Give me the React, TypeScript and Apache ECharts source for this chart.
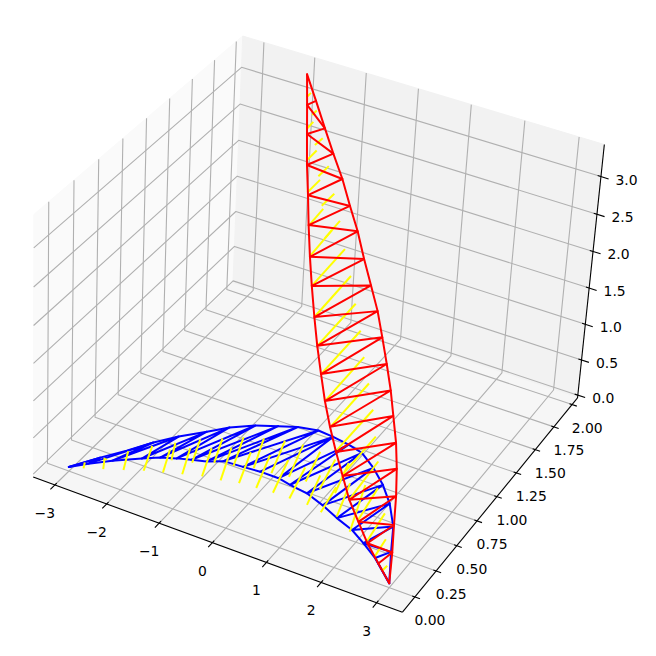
import React, { useEffect, useRef } from "react";
import * as echarts from "echarts";

// Axis limits of the 3D box and its tick values
const XLIM = [-3.42, 3.46], YLIM = [-0.145, 2.075], ZLIM = [-0.04, 3.42];
const xTicks = [-3, -2, -1, 0, 1, 2, 3];
const yTicks = [0, 0.25, 0.5, 0.75, 1, 1.25, 1.5, 1.75, 2];
const zTicks = [0, 0.5, 1, 1.5, 2, 2.5, 3];

// Blue leaf, lying on the floor z = 0: [x, y]
const blueStart = [-3.02, 0.01];
const blueEnd = [2.98, 0.01];
const blueUpper = [[-2.71,0.17],[-2.43,0.30],[-2.16,0.44],[-1.88,0.56],[-1.54,0.68],[-1.27,0.78],[-0.92,0.87],[-0.58,0.93],[-0.28,0.98],[0.07,1.01],[0.37,1.00],[0.70,0.98],[1.00,0.95],[1.36,0.86],[1.71,0.75],[2.04,0.62],[2.37,0.45],[2.64,0.25]];
const blueLower = [[-2.79,0.09],[-2.49,0.18],[-2.10,0.28],[-1.85,0.34],[-1.60,0.38],[-1.37,0.41],[-1.13,0.44],[-0.89,0.49],[-0.53,0.50],[-0.22,0.51],[0.13,0.51],[0.38,0.49],[0.73,0.47],[1.11,0.42],[1.47,0.36],[1.83,0.31],[2.15,0.24],[2.49,0.16]];
// order in which the blue lace visits the edges: U = upper, D = lower (1-based)
const blueLace = ["T","U1","D1","U3","D2","U4","D3","U5","D4","U6","D5","U7","D6","U8","D7","U9","D8","U10","D9","U11","D10","U11","D11","U12","D12","U13","D13","U14","D14","U15","D15","U16","D16","U17","D17","U18","D18","E"];
// Yellow strokes on the blue leaf: [x1, y1, x2, y2]
const blueStrokes = [[-2.86,0.09,-2.79,0.04],[-2.64,0.18,-2.50,0.09],[-2.60,0.18,-2.60,0.17],[-2.40,0.30,-2.20,0.14],[-2.13,0.41,-1.90,0.19],[-1.84,0.50,-1.65,0.35],[-1.82,0.43,-1.60,0.23],[-1.55,0.50,-1.30,0.27],[-1.53,0.60,-1.32,0.39],[-1.24,0.56,-0.99,0.31],[-1.22,0.67,-1.00,0.45],[-0.96,0.62,-0.67,0.33],[-0.93,0.74,-0.68,0.48],[-0.62,0.64,-0.37,0.36],[-0.62,0.79,-0.36,0.52],[-0.30,0.67,-0.06,0.37],[-0.28,0.83,-0.04,0.53],[0.03,0.68,0.24,0.38],[0.04,0.85,0.26,0.55],[0.37,0.67,0.55,0.38],[0.38,0.84,0.56,0.56],[0.69,0.65,0.88,0.38],[0.70,0.82,0.86,0.54],[1.07,0.60,1.17,0.36],[0.94,0.83,1.13,0.55],[1.22,0.67,1.45,0.37],[1.46,0.70,1.82,0.29]];

// Red leaf, in the upright plane y = 0.01 - 0.4 (x - 2.98): [x, z]
const redTop = [-2.05, 3.24];
const redBottom = [2.98, 0.0];
const redRight = [[-1.54,3.20],[-1.04,3.15],[-0.58,3.11],[-0.10,3.09],[0.31,3.01],[0.71,2.95],[1.06,2.83],[1.42,2.74],[1.76,2.65],[2.02,2.50],[2.27,2.34],[2.50,2.17],[2.67,1.97],[2.85,1.76],[2.95,1.50],[3.00,1.18],[3.00,0.80],[3.01,0.44]];
const redLeft = [[-1.97,2.88],[-1.90,2.53],[-1.82,2.16],[-1.69,1.83],[-1.58,1.49],[-1.43,1.15],[-1.26,0.86],[-1.05,0.57],[-0.83,0.32],[-0.57,0.11],[-0.31,-0.08],[0.00,-0.21],[0.35,-0.30],[0.72,-0.35],[1.08,-0.40],[1.54,-0.34],[1.98,-0.28],[2.49,-0.14]];
// Yellow strokes on the red leaf: [x1, z1, x2, z2]
const redStrokes = [[-2.01,2.96,-1.81,3.14],[-1.69,2.92,-1.48,3.11],[-1.93,2.58,-1.62,2.87],[-1.48,2.65,-1.12,2.97],[-1.85,2.20,-1.38,2.64],[-1.23,2.39,-0.76,2.83],[-1.73,1.84,-1.14,2.40],[-0.99,2.15,-0.43,2.68],[-1.59,1.47,-0.91,2.16],[-0.75,1.87,-0.10,2.54],[-1.43,1.16,-0.45,2.18],[-1.26,0.86,0.20,2.37],[-1.05,0.57,0.54,2.25],[-0.83,0.32,0.82,2.08],[-0.57,0.11,1.11,1.93],[-0.31,-0.08,1.33,1.74],[0.08,-0.13,1.60,1.59],[0.38,-0.25,1.85,1.43],[0.74,-0.30,2.03,1.21],[1.11,-0.36,2.20,1.01],[1.53,-0.32,2.26,0.70],[1.95,-0.28,2.61,0.64],[2.33,-0.17,2.72,0.38],[2.65,-0.11,2.85,0.13]];

const [x0, x1] = XLIM, [y0, y1] = YLIM, [z0, z1] = ZLIM;
// Camera: fitted from where box corners and ticks fall in the picture
const CAL: number[][] = [
  [x0, y0, z0, 33, 476], [x1, y0, z0, 402, 611], [-3, y0, z0, 55, 485], [-2, y0, z0, 107, 504], [3, y0, z0, 375.5, 603],
  [x1, 0, z0, 415.7, 597.7], [x1, 0.25, z0, 436, 571.7], [x1, 0.5, z0, 458, 546.7], [x1, 2, z0, 573, 405], [x1, y1, z0, 577, 397],
  [x1, y1, 0, 577.7, 394], [x1, y1, 3, 601, 176.7], [x1, y1, 2, 591.7, 250], [x1, y1, z1, 605, 146],
  [x0, y0, z1, 34, 215], [x0, y1, z1, 242.7, 35], [x0, y1, z0, 233, 283], [x0, 0, z0, 47, 463], [-3, y1, z0, 253.3, 293],
];
function solve(A: number[][], b: number[]) {
  const n = b.length; const M = A.map((r, i) => [...r, b[i]]);
  for (let i = 0; i < n; i++) {
    let p = i; for (let r = i + 1; r < n; r++) if (Math.abs(M[r][i]) > Math.abs(M[p][i])) p = r;
    [M[i], M[p]] = [M[p], M[i]];
    for (let r = 0; r < n; r++) if (r !== i) { const f = M[r][i] / M[i][i]; for (let c = i; c <= n; c++) M[r][c] -= f * M[i][c]; }
  }
  return M.map((r, i) => r[n] / r[i]);
}
function fitCamera() {
  const rows: number[][] = [], rhs: number[] = [];
  for (const [X, Y, Z, u, v] of CAL) {
    rows.push([X, Y, Z, 1, 0, 0, 0, 0, -u * X, -u * Y, -u * Z]); rhs.push(u);
    rows.push([0, 0, 0, 0, X, Y, Z, 1, -v * X, -v * Y, -v * Z]); rhs.push(v);
  }
  const n = 11; const A = Array.from({ length: n }, () => new Array(n).fill(0)); const b = new Array(n).fill(0);
  rows.forEach((r, k) => { for (let i = 0; i < n; i++) { b[i] += r[i] * rhs[k]; for (let j = 0; j < n; j++) A[i][j] += r[i] * r[j]; } });
  return solve(A, b);
}
const P = fitCamera();
const proj = (X: number, Y: number, Z: number) => {
  const w = P[8] * X + P[9] * Y + P[10] * Z + 1;
  return [(P[0] * X + P[1] * Y + P[2] * Z + P[3]) / w, (P[4] * X + P[5] * Y + P[6] * Z + P[7]) / w];
};
const onFloor = (p: number[]) => [p[0], p[1], 0];
const onRedPlane = (p: number[]) => [p[0], 0.01 - 0.4 * (p[0] - 2.98), p[1]];

export default function App() {
  const ref = useRef<HTMLDivElement>(null);
  useEffect(() => {
    const chart = echarts.init(ref.current!, null, { renderer: "svg" });
    const L3 = (a: number[][], color: string, width: number, cap = "butt") => ({
      type: "line", data: a.map((p) => proj(p[0], p[1], p[2])), showSymbol: false, symbol: "none", silent: true, clip: false, animation: false,
      lineStyle: { color, width, cap, join: "round" },
    });
    const poly = (a: number[][], color: string) => ({
      type: "custom", silent: true, clip: false, data: [0], coordinateSystem: "cartesian2d",
      renderItem: (_: any, api: any) => ({ type: "polygon", shape: { points: a.map((p) => api.coord(proj(p[0], p[1], p[2]))) }, style: { fill: color, stroke: color, lineWidth: 1 } }),
    });
    const G = "#b0b0b0";
    const series: any[] = [
      poly([[x0, y0, z0], [x0, y1, z0], [x0, y1, z1], [x0, y0, z1]], "#fafafa"),
      poly([[x0, y1, z0], [x1, y1, z0], [x1, y1, z1], [x0, y1, z1]], "#f2f2f2"),
      poly([[x0, y0, z0], [x1, y0, z0], [x1, y1, z0], [x0, y1, z0]], "#f6f6f6"),
    ];
    for (const x of xTicks) series.push(L3([[x, y0, z0], [x, y1, z0], [x, y1, z1]], G, 1.1));
    for (const y of yTicks) series.push(L3([[x1, y, z0], [x0, y, z0], [x0, y, z1]], G, 1.1));
    for (const z of zTicks) series.push(L3([[x1, y1, z], [x0, y1, z], [x0, y0, z]], G, 1.1));
    series.push(L3([[x0, y0, z0], [x1, y0, z0]], "#000", 1.1), L3([[x1, y0, z0], [x1, y1, z0]], "#000", 1.1), L3([[x1, y1, z0], [x1, y1, z1]], "#000", 1.1));
    for (const x of xTicks) series.push(L3([[x, y0 - 0.045, z0], [x, y0 + 0.02, z0]], "#000", 1.1));
    for (const y of yTicks) series.push(L3([[x1 - 0.05, y, z0], [x1 + 0.09, y, z0]], "#000", 1.1));
    for (const z of zTicks) series.push(L3([[x1 - 0.06, y1, z], [x1 + 0.14, y1, z]], "#000", 1.1));
    const labels: [number, number, string][] = [];
    const f = (v: number) => (v < 0 ? "\u2212" + -v : "" + v);
    for (const x of xTicks) { const p = proj(x, y0, z0); labels.push([p[0] - 10, p[1] + 28, f(x)]); }
    for (const y of yTicks) { const p = proj(x1, y, z0); labels.push([p[0] + 15, p[1] + 23, y.toFixed(2)]); }
    for (const z of zTicks) { const p = proj(x1, y1, z); labels.push([p[0] + 25.5, p[1] + 3, z.toFixed(1)]); }
    series.push({
      type: "custom", silent: true, clip: false, data: labels, coordinateSystem: "cartesian2d",
      renderItem: (_: any, api: any) => {
        const c = api.coord([api.value(0), api.value(1)]);
        return { type: "text", x: c[0], y: c[1], style: { text: labels[_.dataIndex][2], font: '13.9px "DejaVu Sans"', fill: "#000", textAlign: "center", textVerticalAlign: "middle" } };
      },
    });

    const bT = onFloor(blueStart), bE = onFloor(blueEnd);
    const bU = blueUpper.map(onFloor), bD = blueLower.map(onFloor);
    const lace = blueLace.map((k) => (k === "T" ? bT : k === "E" ? bE : (k[0] === "U" ? bU : bD)[+k.slice(1) - 1]));
    series.push(L3([bT, ...bU, bE], "#0000ff", 2, "round"), L3([bT, ...bD, bE], "#0000ff", 2, "round"), L3(lace, "#0000ff", 2, "round"));
    for (const s of blueStrokes) series.push(L3([onFloor([s[0], s[1]]), onFloor([s[2], s[3]])], "#ffff00", 2));
    for (const s of redStrokes) series.push(L3([onRedPlane([s[0], s[1]]), onRedPlane([s[2], s[3]])], "#ffff00", 2));
    const rT = onRedPlane(redTop), rB = onRedPlane(redBottom);
    const rR = redRight.map(onRedPlane), rL = redLeft.map(onRedPlane);
    const zz: number[][] = [];
    rR.forEach((p, i) => { zz.push(p, rL[i]); });
    series.push(L3([rT, ...rR, rB], "#ff0000", 2, "round"), L3([rT, ...rL, rB], "#ff0000", 2, "round"), L3(zz, "#ff0000", 2, "round"));

    chart.setOption({
      animation: false,
      grid: { left: 0, right: 0, top: 0, bottom: 0 },
      xAxis: { type: "value", min: 0, max: 656, show: false },
      yAxis: { type: "value", min: 0, max: 656, inverse: true, show: false },
      series,
    });
    return () => chart.dispose();
  }, []);
  return <div ref={ref} style={{ position: "fixed", left: 0, top: 0, width: 656, height: 656, background: "#fff" }} />;
}
